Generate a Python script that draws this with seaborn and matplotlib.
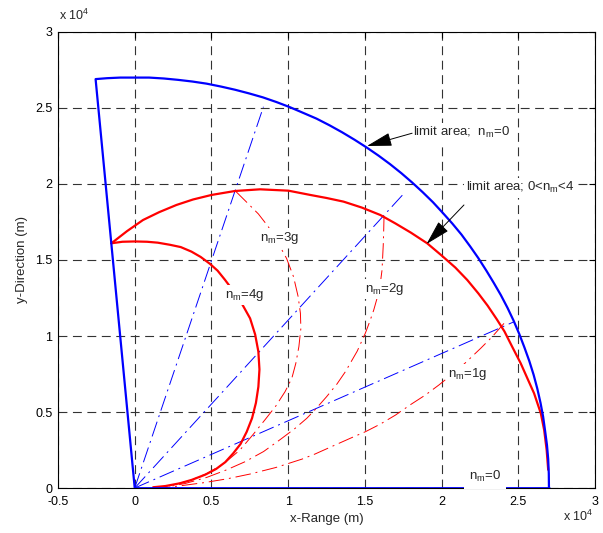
import matplotlib
matplotlib.use("Agg")
import matplotlib.pyplot as plt
import seaborn as sns
import pandas as pd


# 1 DATA (all lengths in units of 1e4 m)

# outer limit area, n_m = 0 (thick blue)
blue_x = [0.0, -0.255, -0.18, -0.094, 0.0, 0.094, 0.19, 0.283, 0.376, 0.469,
          0.562, 0.654, 0.745, 0.835, 0.924, 1.012, 1.10, 1.185, 1.27, 1.352,
          1.433, 1.512, 1.59, 1.665, 1.738, 1.808, 1.877, 1.944, 2.008, 2.07,
          2.13, 2.186, 2.24, 2.292, 2.34, 2.386, 2.43, 2.47, 2.507, 2.54,
          2.572, 2.60, 2.624, 2.645, 2.662, 2.675, 2.687, 2.695, 2.699, 2.70]
blue_y = [0.0, 2.69, 2.696, 2.70, 2.70, 2.70, 2.694, 2.685, 2.674, 2.66,
          2.641, 2.62, 2.596, 2.57, 2.539, 2.505, 2.467, 2.43, 2.386, 2.34,
          2.291, 2.24, 2.186, 2.13, 2.071, 2.01, 1.946, 1.88, 1.81, 1.74,
          1.667, 1.59, 1.512, 1.43, 1.35, 1.27, 1.185, 1.10, 1.012, 0.925,
          0.835, 0.745, 0.654, 0.56, 0.469, 0.375, 0.283, 0.19, 0.094, 0.0]

# ground line n_m = 0 (broken where the label sits)
ground1_x = [0.0, 2.16]
ground2_x = [2.38, 2.70]
ground_y = [0.0, 0.0]

# limit area 0 < n_m < 4 (thick red)
red_x = [-0.152, -0.05, 0.054, 0.16, 0.272, 0.38, 0.501, 0.654, 0.817, 1.002,
         1.144, 1.25, 1.361, 1.48, 1.601, 1.70, 1.80, 1.906, 2.0, 2.09,
         2.168, 2.24, 2.30, 2.36, 2.41, 2.46, 2.516, 2.56, 2.603, 2.647,
         2.669, 2.685, 2.695]
red_y = [1.61, 1.69, 1.763, 1.815, 1.862, 1.898, 1.928, 1.954, 1.965, 1.956,
         1.928, 1.908, 1.884, 1.845, 1.796, 1.74, 1.68, 1.61, 1.53, 1.45,
         1.368, 1.28, 1.20, 1.11, 1.03, 0.93, 0.82, 0.72, 0.623, 0.491,
         0.38, 0.25, 0.12]

# n_m = 4g (thick red arc)
g4_x = [-0.152, -0.08, 0.0, 0.08, 0.15, 0.23, 0.30, 0.37, 0.43, 0.49,
        0.54, 0.588, 0.64, 0.70, 0.752, 0.785, 0.806, 0.813, 0.806, 0.79,
        0.765, 0.73, 0.69, 0.642, 0.59, 0.53, 0.46, 0.37, 0.294, 0.2, 0.12]
g4_y = [1.61, 1.62, 1.622, 1.62, 1.614, 1.60, 1.585, 1.555, 1.52, 1.475,
        1.43, 1.37, 1.30, 1.21, 1.116, 1.01, 0.897, 0.78, 0.666, 0.56,
        0.46, 0.37, 0.29, 0.228, 0.17, 0.125, 0.088, 0.053, 0.031, 0.013, 0.005]

# n_m = 3g, 2g, 1g (thin red dash-dot)
g3_x = [0.66, 0.73, 0.806, 0.87, 0.93, 0.99, 1.035, 1.065, 1.08, 1.083,
        1.07, 1.05, 1.024, 0.98, 0.92, 0.85, 0.77, 0.686, 0.58, 0.47,
        0.36, 0.25, 0.15]
g3_y = [1.95, 1.88, 1.803, 1.72, 1.62, 1.51, 1.39, 1.26, 1.15, 1.05,
        0.93, 0.82, 0.722, 0.634, 0.54, 0.45, 0.35, 0.25, 0.16, 0.095,
        0.05, 0.02, 0.0]
g2_x = [1.625, 1.623, 1.62, 1.612, 1.60, 1.58, 1.558, 1.53, 1.503, 1.45,
        1.373, 1.318, 1.25, 1.18, 1.122, 1.046, 0.95, 0.84, 0.719, 0.60,
        0.47, 0.33, 0.2]
g2_y = [1.79, 1.70, 1.60, 1.434, 1.34, 1.25, 1.171, 1.09, 1.018, 0.90,
        0.765, 0.684, 0.60, 0.52, 0.459, 0.393, 0.32, 0.24, 0.173, 0.12,
        0.07, 0.03, 0.005]
g1_x = [2.407, 2.33, 2.255, 2.12, 1.983, 1.895, 1.80, 1.70, 1.60, 1.503,
        1.427, 1.30, 1.176, 1.09, 0.92, 0.752, 0.60, 0.45, 0.3, 0.18]
g1_y = [1.083, 0.995, 0.919, 0.79, 0.678, 0.612, 0.55, 0.48, 0.42, 0.37,
        0.337, 0.28, 0.224, 0.19, 0.135, 0.092, 0.06, 0.035, 0.015, 0.0]

# blue dash-dot rays from the origin
ray_end_x = [0.839, 1.765, 2.473]
ray_end_y = [2.508, 1.949, 1.094]

# axis ticks
x_ticks = [-0.5, 0, 0.5, 1, 1.5, 2, 2.5, 3]
x_tick_labels = ["-0.5", "0", "0.5", "1", "1.5", "2", "2.5", "3"]
y_ticks = [0, 0.5, 1, 1.5, 2, 2.5, 3]
y_tick_labels = ["0", "0.5", "1", "1.5", "2", "2.5", "3"]


# 2 STYLE

sns.set_theme(style="white")
plt.rcParams["font.family"] = ["Liberation Sans", "DejaVu Sans"]
plt.rcParams["mathtext.fontset"] = "custom"
plt.rcParams["mathtext.rm"] = "Liberation Sans"

fig = plt.figure(figsize=(6.03, 5.33), dpi=100)
ax = fig.add_axes([0.0962, 0.0844, 0.8905, 0.8556])


def curve(x, y, color, lw, dashes=None, z=2):
    d = pd.DataFrame({"x": x, "y": y})
    sns.lineplot(data=d, x="x", y="y", sort=False, estimator=None, ax=ax,
                 color=color, linewidth=lw, zorder=z)
    if dashes is not None:
        ax.lines[-1].set_dashes(dashes)


thin_dash = (16, 5, 2, 5)

# 3 THIN CURVES

for ex, ey in zip(ray_end_x, ray_end_y):
    curve([0, ex], [0, ey], "#0000ff", 0.7, thin_dash)

curve(g3_x, g3_y, "#ff0000", 0.7, thin_dash)
curve(g2_x, g2_y, "#ff0000", 0.7, thin_dash)
curve(g1_x, g1_y, "#ff0000", 0.7, thin_dash)

# 4 THICK CURVES

curve(red_x, red_y, "#ff0000", 1.6)
curve(g4_x, g4_y, "#ff0000", 1.6)
curve(blue_x, blue_y, "#0000ff", 1.6, z=2.6)
curve(ground1_x, ground_y, "#0000ff", 2.0, z=2.6)
curve(ground2_x, ground_y, "#0000ff", 2.0, z=2.6)

# 5 AXES

ax.set_xlim(-0.5, 3)
ax.set_ylim(0, 3)
ax.set_xticks(x_ticks)
ax.set_xticklabels(x_tick_labels)
ax.set_yticks(y_ticks)
ax.set_yticklabels(y_tick_labels)
ax.tick_params(direction="in", length=4, width=0.8, top=True, right=True,
               labelsize=9, colors="black")
ax.tick_params(axis="x", pad=6)
ax.tick_params(axis="y", pad=4)
ax.grid(True, color="#333333", linewidth=0.8, dashes=(8, 5))
for s in ax.spines.values():
    s.set_color("black")
    s.set_linewidth(0.8)

ax.set_xlabel("x-Range (m)", fontsize=9.5, labelpad=3)
ax.set_ylabel("y-Direction (m)", fontsize=9.5, labelpad=5)

fig.text(0.098, 0.962, r"x 10$^{\mathregular{4}}$", fontsize=9)
fig.text(0.934, 0.022, r"x 10$^{\mathregular{4}}$", fontsize=9)

# 6 ANNOTATIONS

box = dict(facecolor="white", edgecolor="none", pad=1.5)
labels = [
    (r"limit area;  $\mathregular{n_m}$=0", 1.817, 2.336),
    (r"limit area; 0<$\mathregular{n_m}$<4", 2.157, 1.974),
    (r"$\mathregular{n_m}$=3g", 0.817, 1.645),
    (r"$\mathregular{n_m}$=4g", 0.588, 1.27),
    (r"$\mathregular{n_m}$=2g", 1.503, 1.31),
    (r"$\mathregular{n_m}$=1g", 2.04, 0.75),
]
for txt, tx, ty in labels:
    ax.text(tx, ty, txt, fontsize=9.5, ha="left", va="center", bbox=box, zorder=5)

ax.text(2.178, 0.075, r"$\mathregular{n_m}$=0", fontsize=9.5, ha="left",
        va="center", bbox=dict(facecolor="white", edgecolor="none", pad=3.5),
        zorder=5)

arrow = dict(arrowstyle="-|>,head_length=1.3,head_width=0.35", color="black",
             lw=0.7, shrinkA=0, shrinkB=0)
ax.annotate("", xy=(1.514, 2.25), xytext=(1.808, 2.334), arrowprops=arrow, zorder=6)
ax.annotate("", xy=(1.902, 1.605), xytext=(2.146, 1.862), arrowprops=arrow, zorder=6)

fig.savefig("out.png", dpi=100)
